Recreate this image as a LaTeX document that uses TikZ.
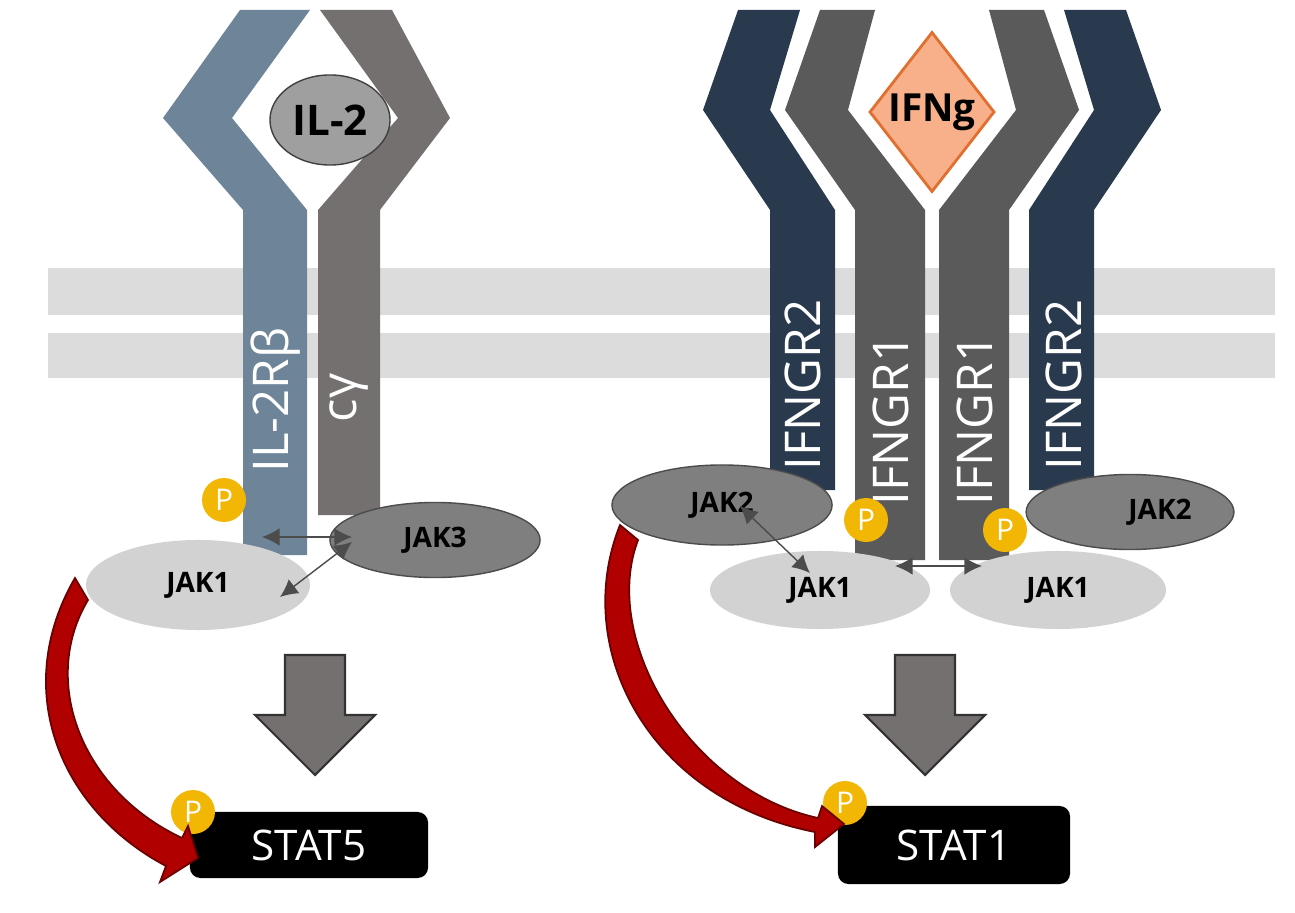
\documentclass[tikz,border=0pt]{standalone}
\usepackage{fontspec}
\setmainfont{Open Sans}
\usetikzlibrary{arrows.meta,shapes.geometric}
\definecolor{memb}{HTML}{DCDCDC}
\definecolor{blu}{HTML}{6E8499}
\definecolor{gam}{HTML}{757070}
\definecolor{navy}{HTML}{293A4F}
\definecolor{gr1}{HTML}{5A5A5A}
\definecolor{jakd}{HTML}{7F7F7F}
\definecolor{jakl}{HTML}{D2D2D2}
\definecolor{ifn}{HTML}{F8B08A}
\definecolor{ifnd}{HTML}{E0702F}
\definecolor{pcol}{HTML}{F2B705}
\definecolor{redd}{HTML}{B00000}
\tikzset{
 rlab/.style={text=white,rotate=90,font=\fontsize{14}{14}\selectfont},
 jakdark/.style={ellipse,fill=jakd,draw=gray!60!black,line width=0.4pt,font=\bfseries\fontsize{8}{8}\selectfont},
 jaklight/.style={ellipse,fill=jakl,font=\bfseries\fontsize{8}{8}\selectfont},
 phos/.style={circle,fill=pcol,text=white,inner sep=0pt,minimum size=12.5pt,font=\fontsize{8.5}{8.5}\selectfont},
 stat/.style={rounded corners=3pt,fill=black,text=white,font=\fontsize{12}{12}\selectfont},
 bigarrow/.style={fill=gam,draw=black!80,line width=0.6pt},
 redarr/.style={draw=redd!60!black,fill=redd,line width=0.5pt},
 sarr/.style={{Latex[length=5pt,width=5pt]}-{Latex[length=5pt,width=5pt]},line width=0.4pt,black!70}
}
\begin{document}
\begin{tikzpicture}[x=0.01cm,y=-0.01cm]
\useasboundingbox (0,0) rectangle (1295,913);
% membrane
\fill[memb] (48,268) rectangle (1275,315);
\fill[memb] (48,333) rectangle (1275,378);
% IL-2 receptor
\fill[blu] (243,555) -- (243,210) -- (163,118) -- (240,10) -- (310,10) -- (232,118) -- (307,210) -- (307,555) -- cycle;
\fill[gam] (318,515) -- (318,210) -- (398,118) -- (320,10) -- (392,10) -- (450,118) -- (380,210) -- (380,515) -- cycle;
\node[ellipse,fill=gray!75,draw=gray!50!black,inner sep=0pt,minimum width=1.2cm,minimum height=0.9cm,font=\bfseries\fontsize{12}{12}\selectfont] (il2) at (330,120) {IL-2};
\node[rlab] (rb) at (276,400) {IL-2Rβ};
\node[rlab] (cg) at (349,398) {cγ};
% IFNg receptor
\fill[navy] (770,490) -- (770,210) -- (703,110) -- (738,10) -- (800,10) -- (770,110) -- (835,210) -- (835,490) -- cycle;
\fill[gr1] (855,560) -- (855,210) -- (785,110) -- (820,10) -- (875,10) -- (848,110) -- (925,210) -- (925,560) -- cycle;
\fill[gr1] (1009,560) -- (1009,210) -- (1079,110) -- (1044,10) -- (989,10) -- (1016,110) -- (939,210) -- (939,560) -- cycle;
\fill[navy] (1094,490) -- (1094,210) -- (1161,110) -- (1126,10) -- (1064,10) -- (1094,110) -- (1029,210) -- (1029,490) -- cycle;
\node[diamond,fill=ifn,draw=ifnd,line width=0.8pt,minimum width=1.25cm,minimum height=1.6cm,inner sep=0pt,font=\bfseries\fontsize{11}{11}\selectfont] (ifng) at (932,112) {IFNg};
\node[rlab] (r2a) at (803,385) {IFNGR2};
\node[rlab] (r1a) at (891,420) {IFNGR1};
\node[rlab] (r1b) at (975,420) {IFNGR1};
\node[rlab] (r2b) at (1064,385) {IFNGR2};
% JAKs
\node[jakdark,minimum width=2.1cm,minimum height=0.75cm] (jak3) at (435,540) {JAK3};
\node[jaklight,minimum width=2.24cm,minimum height=0.9cm] (jak1a) at (198,585) {JAK1};
\node[jakdark,minimum width=2.2cm,minimum height=0.8cm] (jak2a) at (722,505) {JAK2};
\node[jakdark,minimum width=1.9cm,minimum height=0.75cm] (jak2b) at (1130,512) {\hspace*{0.6cm}JAK2};
\node[jaklight,minimum width=2.2cm,minimum height=0.78cm] (jak1b) at (820,590) {JAK1};
\node[jaklight,minimum width=2.16cm,minimum height=0.78cm] (jak1c) at (1058,590) {JAK1};
% P
\node[phos] (p1) at (224,500) {P};
\node[phos] (p2) at (866,520) {P};
\node[phos] (p3) at (1005,530) {P};
% small arrows
\coordinate (a1) at (262,537); \coordinate (a2) at (352,537);
\coordinate (a3) at (352,542); \coordinate (a4) at (280,597);
\draw[sarr] (a1) -- (a2);
\draw[sarr] (a3) -- (a4);
\coordinate (b1) at (740,506); \coordinate (b2) at (810,573);
\draw[sarr] (b1) -- (b2);
\coordinate (c1) at (895,566); \coordinate (c2) at (982,566);
\draw[sarr] (c1) -- (c2);
% big arrows
\draw[bigarrow] (285,655) -- (345,655) -- (345,715) -- (375,715) -- (315,775) -- (255,715) -- (285,715) -- cycle;
\draw[bigarrow] (895,655) -- (955,655) -- (955,715) -- (985,715) -- (925,775) -- (865,715) -- (895,715) -- cycle;
% STATs
\node[stat,minimum width=2.38cm,minimum height=0.66cm] (s5) at (309,845) {STAT5};
\node[stat,minimum width=2.32cm,minimum height=0.78cm] (s1) at (954,845) {STAT1};
\node[phos] (p4) at (193,812) {P};
\node[phos] (p5) at (845,803) {P};
% red arrows
\path[redarr] (75,578) -- (88,600) .. controls (40,680) and (80,790) .. (182,838)
  -- (188,826) -- (198,858) -- (160,882) -- (166,866)
  .. controls (60,810) and (10,690) .. cycle;
\path[redarr] (620,525) -- (638,540) .. controls (600,640) and (690,790) .. (818,818)
  -- (822,806) -- (844,824) -- (815,847) -- (815,832)
  .. controls (650,800) and (570,650) .. cycle;
\end{tikzpicture}
\end{document}
